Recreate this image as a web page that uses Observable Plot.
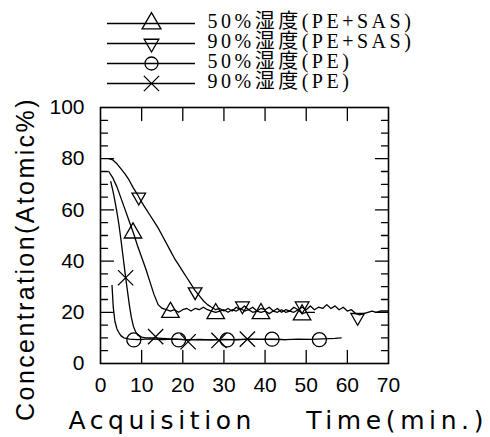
<!DOCTYPE html>
<html>
<head>
<meta charset="utf-8">
<script src="https://cdn.jsdelivr.net/npm/d3@7"></script>
<script src="https://cdn.jsdelivr.net/npm/@observablehq/plot@0.6"></script>
<style>
  html, body { margin: 0; padding: 0; background: #fff; }
  #legend svg, #chart svg { display: block; }
</style>
</head>
<body>
<div id="legend"></div>
<div id="chart"></div>
<script>
// ---- data ----
const seriesNames = ["50%湿度(PE+SAS)", "90%湿度(PE+SAS)", "50%湿度(PE)", "90%湿度(PE)"];

// traced curves: [time (min), concentration (atomic %)]
const line50sas = [[2,75],[3,72.5],[4,69],[5,64.5],[6,60],[7,55.5],[8,51],[9,46],[10,41.5],[11,37],[12,32],[13,27],[14,23],[15,21.5],[16,21],[17,20.5],[18,21],[19,20],[20,21],[21,21.5],[22,20.5],[23,21.5],[24,21],[25,22],[26,21],[27,20.5],[28,20],[29,20.5],[30,21],[31,20],[32,21],[33,20.5],[34,21.5],[35,20.5],[36,21],[37,20],[38,20.5],[39,20],[40,20.5],[41,19.5],[42,20.5],[43,20],[44,21],[45,20],[46,20.5],[47,20],[48,21],[49,19.5],[50,20],[52,20]];
const line90sas = [[2,80],[3,79.5],[4,78],[5,76],[6,74],[7,71.5],[8,68.5],[9,66],[10,63],[11,60.5],[12,58],[13,55.5],[14,53],[15,50],[16,47],[17,44],[18,41],[19,38.5],[20,36],[21,33.5],[22,31],[23,28.5],[24,26.5],[25,24.5],[26,23],[27,22],[28,21],[29,21.5],[30,20.5],[31,21.5],[32,20.5],[33,22],[34,21],[35,22.5],[36,21],[37,22],[38,20.5],[39,21.5],[40,21],[41,22],[42,20.5],[43,21.5],[44,20],[45,21],[46,20.5],[47,22],[48,21],[49,22],[50,21],[51,22.5],[52,21],[53,22],[54,21.5],[55,23],[56,21.5],[57,22.5],[58,21],[59,22],[60,20.5],[61,21],[62,19.5],[63,19],[64,19.5],[65,20],[66,20.5],[67,20],[68,20.5],[70,20.5]];
const line50pe = [[2.8,30.5],[3.1,22],[3.5,16.5],[4,13.5],[4.5,12],[5,10.8],[5.7,10],[7,9.5],[9,9.3],[12,9.6],[15,9.3],[18,9.5],[21,9.2],[24,9.4],[27,9.2],[30,9.4],[33,9.2],[36,9.5],[39,9.4],[42,9.5],[45,9.3],[48,9.5],[51,9.4],[54,9.6],[57,9.8],[58.5,10]];
const line90pe = [[2.5,71],[3,67.5],[3.5,63.5],[4,59],[4.5,54],[5,48],[5.5,41.5],[6,35],[6.5,29],[7,23],[7.5,18],[8,14.5],[8.5,12.5],[9,11.2],[10,10.3],[11,10],[13,10],[15,9.8],[18,9.5],[21,9.3],[25,9.2],[30,9.3],[35,9.4],[40,9.4],[45,9.3]];

// marker positions
const mark50sas = [[7.9,51],[17,20],[28,19.5],[39,19.5],[49,19]];
const mark90sas = [[9.3,65],[23,28],[34.5,22.5],[49,22.5],[62.5,18]];
const mark50pe  = [[8.1,9.2],[19,9.2],[30.8,9.2],[41.7,9.5],[53.2,9.3]];
const mark90pe  = [[6.1,33.5],[13.4,10.5],[21.3,8.5],[28.8,9],[35.7,9.5]];

// axes
const xTicks = [0, 10, 20, 30, 40, 50, 60, 70];
const xInnerTicks = [10, 20, 30, 40, 50, 60];
const yTicks = [0, 20, 40, 60, 80, 100];
const yInnerMajor = [20, 40, 60, 80];
const yInnerMinor = [5, 10, 15, 25, 30, 35, 45, 50, 55, 65, 70, 75, 85, 90, 95];
const yTitle = "Concentration(Atomic%)";
const xTitle = "Acquisition    Time(min.)";

// ---- symbols ----
const sqrt3 = Math.sqrt(3);
const triangleDown = {
  draw(context, size) {
    const s = Math.sqrt(size) * 0.6824, t = s / 2, u = s * sqrt3 / 2;
    context.moveTo(0, s);
    context.lineTo(-u, -t);
    context.lineTo(u, -t);
    context.closePath();
  }
};
const symbols = ["triangle", triangleDown, "circle", "times"];
const sizes = [6.5, 6.5, 7, 7];
const legendSizes = [7, 7, 6.5, 7];
const tickShape = { draw(context, l) { context.moveTo(0, 0); context.lineTo(0, -l); } };

const curves = [line50sas, line90sas, line50pe, line90pe];
const markers = [mark50sas, mark90sas, mark50pe, mark90pe];
const lineRows = curves.flatMap((c, i) => c.map(([t, v]) => ({ t, v, s: seriesNames[i] })));

// ---- legend ----
const legend = Plot.plot({
  width: 490, height: 92,
  marginTop: 22, marginBottom: 9, marginLeft: 107, marginRight: 295,
  y: { domain: seriesNames, type: "point", padding: 0, axis: null },
  style: { background: "white", overflow: "visible" },
  marks: [
    Plot.ruleY(seriesNames, { y: d => d, stroke: "black", strokeWidth: 1.4 }),
    ...seriesNames.map((name, i) => Plot.dot([name], {
      y: d => d, frameAnchor: "middle", symbol: symbols[i], r: legendSizes[i],
      stroke: "black", fill: "none", strokeWidth: 1.3
    })),
    Plot.text(seriesNames, {
      y: d => d, text: d => d, frameAnchor: "right", dx: 12, dy: -2,
      textAnchor: "start", lineAnchor: "middle", fontSize: 20,
      fontFamily: "'Liberation Serif', 'Noto Sans CJK JP', serif", fill: "black"
    })
  ]
});
d3.select(legend).selectAll("text").style("letter-spacing", "3.5px");
document.getElementById("legend").append(legend);

// ---- main chart ----
const chart = Plot.plot({
  width: 490, height: 345,
  marginTop: 15, marginBottom: 74, marginLeft: 100, marginRight: 102,
  x: { domain: [0, 70] },
  y: { domain: [0, 100] },
  style: { background: "white", color: "black", fontFamily: "'Liberation Sans', Arial, sans-serif", overflow: "visible" },
  marks: [
    Plot.frame({ stroke: "black", strokeWidth: 1.6 }),
    Plot.vector(xInnerTicks, { x: d => d, frameAnchor: "top", length: 13, rotate: 180, anchor: "start", shape: tickShape, stroke: "black", strokeWidth: 1.3 }),
    Plot.vector(xInnerTicks, { x: d => d, frameAnchor: "bottom", length: 13, rotate: 0, anchor: "start", shape: tickShape, stroke: "black", strokeWidth: 1.3 }),
    Plot.vector(yInnerMajor, { y: d => d, frameAnchor: "left", length: 13, rotate: 90, anchor: "start", shape: tickShape, stroke: "black", strokeWidth: 1.3 }),
    Plot.vector(yInnerMajor, { y: d => d, frameAnchor: "right", length: 13, rotate: -90, anchor: "start", shape: tickShape, stroke: "black", strokeWidth: 1.3 }),
    Plot.vector(yInnerMinor, { y: d => d, frameAnchor: "left", length: 7, rotate: 90, anchor: "start", shape: tickShape, stroke: "black", strokeWidth: 1.3 }),
    Plot.vector(yInnerMinor, { y: d => d, frameAnchor: "right", length: 7, rotate: -90, anchor: "start", shape: tickShape, stroke: "black", strokeWidth: 1.3 }),
    Plot.axisX({ ticks: xTicks, tickSize: 0, tickPadding: 14, label: null, tickFormat: d => String(d), fontSize: 21 }),
    Plot.axisY({ ticks: yTicks, tickSize: 0, tickPadding: 16, label: null, tickFormat: d => String(d), fontSize: 21 }),
    Plot.line(lineRows, { x: "t", y: "v", z: "s", stroke: "black", strokeWidth: 1.3 }),
    ...markers.map((m, i) => Plot.dot(m, {
      x: d => d[0], y: d => d[1], symbol: symbols[i], r: sizes[i],
      stroke: "black", fill: "none", strokeWidth: 1.3
    })),
    Plot.text([yTitle], {
      text: d => d, frameAnchor: "left", dx: -67, dy: 23.5, rotate: -90,
      textAnchor: "middle", lineAnchor: "bottom", fontSize: 25,
      fontFamily: "'Liberation Sans', Arial, sans-serif", fill: "black"
    }),
    Plot.text([xTitle], {
      text: d => d, frameAnchor: "bottom-left", dx: -32, dy: 65,
      textAnchor: "start", lineAnchor: "bottom", fontSize: 25,
      fontFamily: "'DejaVu Sans', sans-serif", fill: "black"
    })
  ]
});
d3.select(chart).selectAll("text").filter(function () { return this.textContent === yTitle; })
  .style("letter-spacing", "2.4px");
d3.select(chart).selectAll("text").filter(function () { return this.textContent === xTitle; })
  .style("letter-spacing", "4.6px").style("white-space", "pre");
document.getElementById("chart").append(chart);
</script>
</body>
</html>
